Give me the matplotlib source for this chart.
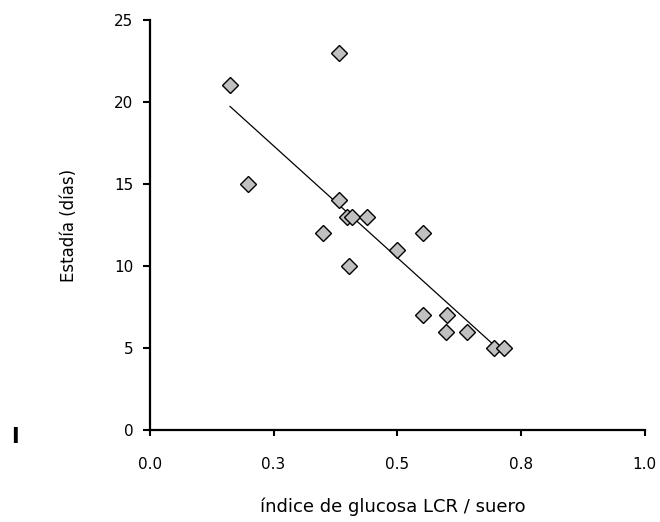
import numpy as np
import matplotlib
matplotlib.use("Agg")
import matplotlib.pyplot as plt

# indice de glucosa LCR / suero vs estadia (dias)
glucosa = [0.162, 0.382, 0.198, 0.382, 0.349, 0.398, 0.408, 0.438, 0.402,
           0.499, 0.552, 0.552, 0.600, 0.598, 0.640, 0.696, 0.716]
estadia = [21, 23, 15, 14, 12, 13, 13, 13, 10,
           11, 12, 7, 7, 6, 6, 5, 5]

xticks = [0.0, 0.25, 0.5, 0.75, 1.0]
xtick_labels = ["0.0", "0.3", "0.5", "0.8", "1.0"]
yticks = [0, 5, 10, 15, 20, 25]

plt.rcParams['font.family'] = ['DejaVu Sans']

fig = plt.figure(figsize=(6.6, 5.22), dpi=100)
ax = fig.add_axes([0.227, 0.176, 0.750, 0.786])

# linear trendline over the data range
coef = np.polyfit(glucosa, estadia, 1)
xs = np.array([min(glucosa), max(glucosa)])
ax.plot(xs, np.polyval(coef, xs), color='black', lw=0.9, zorder=1)

ax.plot(glucosa, estadia, linestyle='none', marker='D', markersize=8.5,
        markerfacecolor='#c0c0c0', markeredgecolor='black',
        markeredgewidth=1.0, zorder=2)

ax.set_xlim(0, 1.0)
ax.set_ylim(0, 25)
ax.set_xticks(xticks)
ax.set_xticklabels(xtick_labels)
ax.set_yticks(yticks)

for side in ['top', 'right']:
    ax.spines[side].set_visible(False)
for side in ['left', 'bottom']:
    ax.spines[side].set_linewidth(1.6)

ax.tick_params(axis='y', direction='out', length=5, width=1.5, pad=7,
               labelsize=11)
ax.tick_params(axis='x', direction='out', length=4, width=1.5, pad=15,
               labelsize=11)

ax.set_ylabel("Estadía (días)", fontsize=12, labelpad=26)
fig.text(0.595, 0.012, "índice de glucosa LCR / suero", fontsize=13,
         ha='center', va='bottom')
fig.text(0.023, 0.163, "I", fontsize=15, fontweight='bold', ha='center',
         va='center')

fig.savefig("out.png", dpi=100)
